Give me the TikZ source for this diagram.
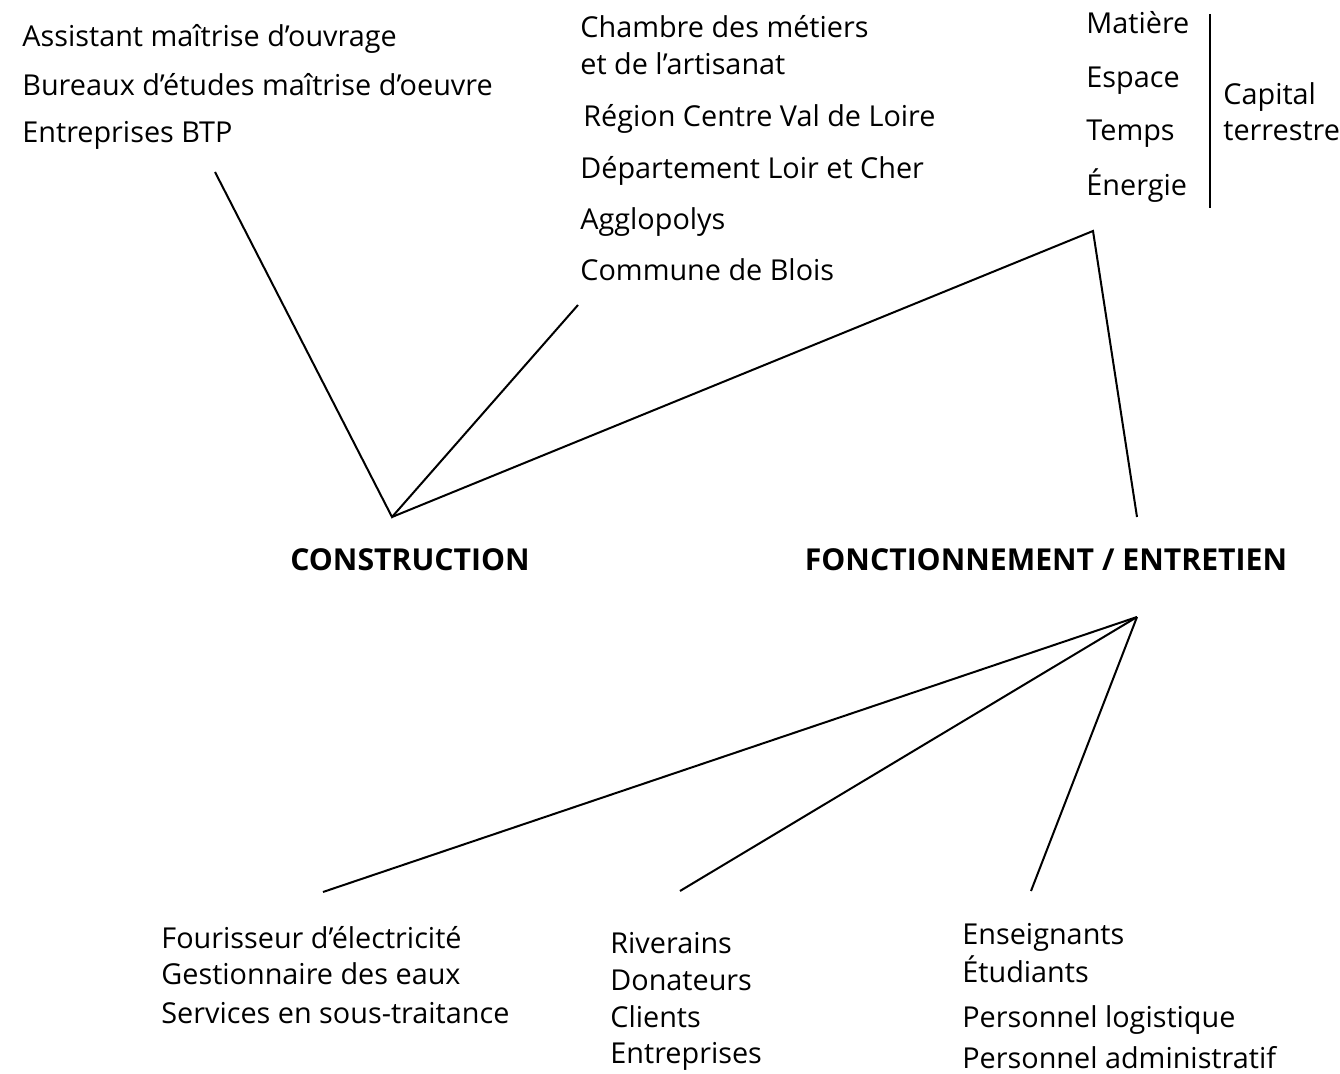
\documentclass[tikz,border=0pt]{standalone}
\usepackage{fontspec}
\setmainfont{Open Sans}
\usepackage{tikz}

\begin{document}
\begin{tikzpicture}[x=0.5pt,y=-0.5pt,
  lbl/.style={anchor=base west,inner sep=0pt,font=\fontsize{14.4}{16}\selectfont},
  head/.style={anchor=base,inner sep=0pt,font=\fontsize{15.1}{17}\selectfont\bfseries},
  link/.style={black,line width=1pt}]
\useasboundingbox (0,0) rectangle (1340,1074);
% acteurs de la construction
\node[lbl] (amo) at (22,47) {Assistant maîtrise d’ouvrage};
\node[lbl] (moe) at (22,96) {Bureaux d’études maîtrise d’oeuvre};
\node[lbl] (btp) at (22,143) {Entreprises BTP};
\node[lbl] (cma1) at (580,38) {Chambre des métiers};
\node[lbl] (cma2) at (580,75) {et de l’artisanat};
\node[lbl] (reg) at (583,127) {Région Centre Val de Loire};
\node[lbl] (dep) at (580,179) {Département Loir et Cher};
\node[lbl] (agglo) at (580,230) {Agglopolys};
\node[lbl] (blois) at (580,281) {Commune de Blois};
% capital terrestre
\node[lbl] (mat) at (1086,34) {Matière};
\node[lbl] (esp) at (1086,88) {Espace};
\node[lbl] (tps) at (1086,141) {Temps};
\node[lbl] (ener) at (1086,196) {Énergie};
\node[lbl] (cap1) at (1223,105) {Capital};
\node[lbl] (cap2) at (1223,141) {terrestre};
\coordinate (barTop) at (1210,14);
\coordinate (barBot) at (1210,208);
% phases
\node[head] (constr) at (410,571) {CONSTRUCTION};
\node[head] (fonct) at (1046,571) {FONCTIONNEMENT / ENTRETIEN};
% acteurs du fonctionnement
\node[lbl] (elec) at (161,949) {Fourisseur d’électricité};
\node[lbl] (eaux) at (161,985) {Gestionnaire des eaux};
\node[lbl] (serv) at (161,1023) {Services en sous-traitance};
\node[lbl] (riv) at (610,954) {Riverains};
\node[lbl] (don) at (610,991) {Donateurs};
\node[lbl] (cli) at (610,1028) {Clients};
\node[lbl] (ent) at (610,1063) {Entreprises};
\node[lbl] (ens) at (962,944) {Enseignants};
\node[lbl] (etu) at (962,983) {Étudiants};
\node[lbl] (plog) at (962,1027) {Personnel logistique};
\node[lbl] (padm) at (962,1068) {Personnel administratif};
% sommets et extremites
\coordinate (cTop) at (392,517);
\coordinate (fTop) at (1137,517);
\coordinate (fBot) at (1137,617);
\coordinate (capPt) at (1093,231);
\coordinate (btpEnd) at (215,172);
\coordinate (pubEnd) at (578,305);
\coordinate (servEnd) at (323,892);
\coordinate (rivEnd) at (680,891);
\coordinate (ensEnd) at (1031,891);
\draw[link] (barTop) -- (barBot);
\draw[link] (btpEnd) -- (cTop) -- (pubEnd);
\draw[link] (cTop) -- (capPt) -- (fTop);
\draw[link] (servEnd) -- (fBot);
\draw[link] (rivEnd) -- (fBot);
\draw[link] (ensEnd) -- (fBot);
\end{tikzpicture}
\end{document}
